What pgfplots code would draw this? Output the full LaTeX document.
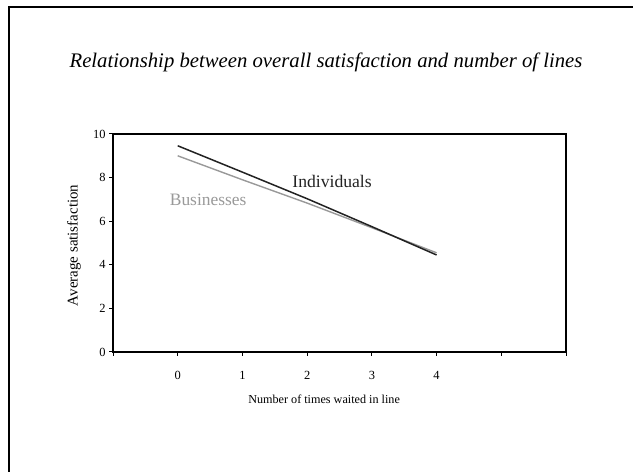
\documentclass[border=0pt]{standalone}
\usepackage{pgfplots}
\pgfplotsset{compat=1.18}
\usepackage{fontspec}
\setmainfont{Liberation Serif}
\definecolor{indiv}{HTML}{222222}
\definecolor{busi}{HTML}{999999}
\begin{document}
\begin{tikzpicture}[x=1bp,y=1bp]
\useasboundingbox (0,0) rectangle (633,472);
\draw[line width=2bp] (9.3,-20) -- (9.3,464.5) -- (660,464.5);
\begin{axis}[at={(113bp,120bp)}, anchor=south west, scale only axis,
  width=453bp, height=218bp,
  xmin=-1, xmax=6, ymin=0, ymax=10,
  xtick={-1,0,1,2,3,4,5,6}, xticklabels={,0,1,2,3,4,,},
  ytick={0,2,4,6,8,10},
  tick align=outside, tick pos=left, major tick length=4bp,
  axis line style={line width=1.2bp},
  every tick/.style={line width=1bp, black},
  ticklabel style={font=\fontsize{12.5}{14}\selectfont},
  x tick label style={yshift=-12bp},
  /pgf/number format/assume math mode=true,
  xlabel={Number of times waited in line},
  ylabel={Average satisfaction},
  every axis x label/.style={at={(axis description cs:0.466,0)}, anchor=center, yshift=-47bp, font=\fontsize{12.2}{14}\selectfont},
  every axis y label/.style={at={(axis description cs:0,0.489)}, anchor=center, xshift=-39bp, rotate=90, font=\fontsize{15}{17}\selectfont},
  clip=false,
]
\addplot[busi, line width=1.4bp, mark=none] coordinates {(0,9.0) (1,7.9) (2,6.83) (3,5.7) (4,4.55)};
\addplot[indiv, line width=1.5bp, mark=none] coordinates {(0,9.46) (1,8.25) (2,7.03) (3,5.75) (4,4.45)};
\node[indiv, font=\fontsize{17.7}{20}\selectfont] at (axis cs:2.385,7.84) {Individuals};
\node[busi, font=\fontsize{17.5}{20}\selectfont] at (axis cs:0.47,6.97) {Businesses};
\end{axis}
\node[font=\itshape\fontsize{20.8}{24}\selectfont] at (326,410) {Relationship between overall satisfaction and number of lines};
\end{tikzpicture}
\end{document}
